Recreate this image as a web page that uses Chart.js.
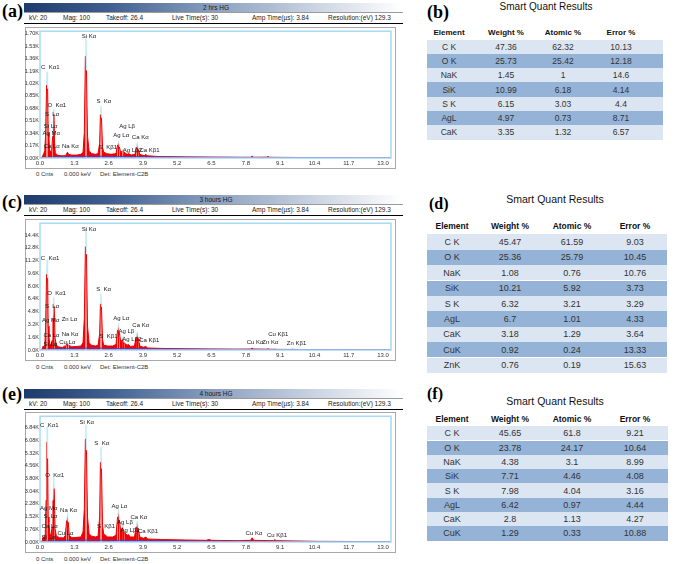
<!DOCTYPE html>
<html>
<head>
<meta charset="utf-8">
<script src="https://cdn.jsdelivr.net/npm/chart.js@4.4.1/dist/chart.umd.min.js"></script>
<style>
  body { margin: 0; background: #fff; }
  #page { position: relative; width: 685px; height: 564px; overflow: hidden;
          font-family: "Liberation Sans", Arial, sans-serif; color: #222; }
  .t { position: absolute; white-space: nowrap; line-height: 1; }
  .tag { font-family: "Liberation Serif", "Times New Roman", serif; font-weight: bold; font-size: 18px; color: #000; }
  .tag2 { font-family: "Liberation Serif", "Times New Roman", serif; font-weight: bold; font-size: 16px; color: #000; }
  .bar { position: absolute; height: 9px;
         background: linear-gradient(to right, #1d3b6c 0%, #3f5f8f 22%, #8a9fbf 50%, #cdd6e4 78%, #ffffff 100%); }
  .info { position: absolute; height: 10px; border-top: 1px solid #9a9a9a; border-bottom: 1.5px solid #000; }
  .small { font-size: 6.5px; color: #1a1a1a; }
  .foot { font-size: 6px; color: #333; }
  .row { position: absolute; }
  canvas { position: absolute; }
</style>
</head>
<body>
<div id="page"></div>
<script>
(function () {
  "use strict";

  // ── Axis ticks ──
  const xTicks  = [0.0, 1.3, 2.6, 3.9, 5.2, 6.5, 7.8, 9.1, 10.4, 11.7, 13.0];
  const yTicksA = [0, 0.17, 0.34, 0.51, 0.68, 0.85, 1.02, 1.19, 1.36, 1.53, 1.70];
  const yTicksC = [0, 1.6, 3.2, 4.8, 6.4, 8.0, 9.6, 11.2, 12.8, 14.4];
  const yTicksE = [0, 0.76, 1.52, 2.28, 3.04, 3.80, 4.56, 5.32, 6.08, 6.84];

  // ── Spectra: [keV, counts (K)] ──
  const specA = [
    [0.00,0.00],[0.08,0.01],[0.14,0.06],[0.18,0.10],[0.21,0.30],[0.25,1.00],[0.27,1.18],[0.29,0.95],
    [0.31,0.35],[0.34,0.28],[0.36,0.12],[0.40,0.08],[0.44,0.10],[0.48,0.30],[0.51,0.67],[0.53,0.60],
    [0.55,0.22],[0.58,0.07],[0.65,0.04],[0.80,0.03],[0.95,0.03],[1.00,0.05],[1.04,0.08],[1.08,0.05],
    [1.20,0.04],[1.40,0.04],[1.55,0.05],[1.63,0.08],[1.68,0.35],[1.72,1.40],[1.74,1.64],[1.76,1.20],
    [1.80,0.30],[1.86,0.10],[1.95,0.06],[2.10,0.05],[2.20,0.06],[2.26,0.20],[2.29,0.60],[2.31,0.71],
    [2.33,0.55],[2.37,0.15],[2.42,0.07],[2.46,0.08],[2.50,0.06],[2.70,0.05],[2.88,0.06],[2.94,0.18],
    [2.98,0.23],[3.01,0.15],[3.06,0.07],[3.12,0.10],[3.15,0.12],[3.18,0.08],[3.30,0.05],[3.36,0.06],
    [3.45,0.04],[3.60,0.05],[3.65,0.15],[3.69,0.21],[3.72,0.12],[3.78,0.05],[3.95,0.03],[4.01,0.05],
    [4.06,0.03],[4.50,0.02],[5.50,0.015],[6.50,0.012],[7.50,0.01],[7.98,0.01],[8.04,0.025],[8.10,0.01],
    [8.60,0.012],[8.64,0.02],[8.70,0.01],[10.0,0.006],[11.0,0.004],[13.3,0.002]
  ];
  const bgA = [[0,0],[0.3,0.01],[1.0,0.02],[2.0,0.025],[3.0,0.02],[4.0,0.015],[6.0,0.01],[9.0,0.006],[13.3,0.002]];

  const specC = [
    [0.00,0.0],[0.08,0.1],[0.12,0.5],[0.15,0.3],[0.18,0.6],[0.21,2.5],[0.25,9.5],[0.27,11.3],
    [0.29,9.0],[0.31,3.0],[0.34,1.6],[0.37,0.8],[0.41,0.6],[0.46,1.2],[0.49,4.0],[0.52,6.6],
    [0.54,5.5],[0.57,1.5],[0.62,0.6],[0.70,0.4],[0.85,0.3],[0.93,0.5],[0.97,0.4],[1.01,0.8],
    [1.04,1.1],[1.08,0.6],[1.20,0.4],[1.40,0.45],[1.55,0.5],[1.63,0.9],[1.68,4.0],[1.72,13.0],
    [1.74,15.3],[1.76,12.0],[1.80,3.0],[1.86,0.9],[1.95,0.6],[2.10,0.5],[2.20,0.6],[2.26,2.0],
    [2.29,5.8],[2.31,7.0],[2.33,5.4],[2.37,1.3],[2.42,0.5],[2.46,0.6],[2.55,0.5],[2.75,0.5],
    [2.88,0.7],[2.94,2.5],[2.98,3.3],[3.01,2.2],[3.06,0.9],[3.11,1.3],[3.15,1.7],[3.19,0.9],
    [3.30,0.6],[3.35,0.7],[3.42,0.45],[3.58,0.5],[3.64,1.6],[3.69,2.3],[3.72,1.5],[3.78,0.5],
    [3.92,0.35],[4.01,0.45],[4.08,0.25],[4.60,0.2],[5.50,0.15],[6.50,0.12],[7.50,0.1],[7.98,0.12],
    [8.04,0.22],[8.10,0.12],[8.58,0.1],[8.63,0.16],[8.68,0.1],[8.85,0.09],[8.90,0.12],[8.95,0.08],
    [9.52,0.07],[9.57,0.1],[9.62,0.07],[10.5,0.05],[13.3,0.02]
  ];
  const bgC = [[0,0],[0.3,0.1],[1.0,0.2],[2.0,0.25],[3.0,0.2],[4.0,0.15],[6.0,0.1],[9.0,0.06],[13.3,0.02]];

  const specE = [
    [0.00,0.0],[0.08,0.05],[0.12,0.3],[0.16,0.2],[0.20,0.5],[0.23,2.5],[0.26,6.0],[0.27,6.94],
    [0.29,5.0],[0.31,1.5],[0.34,1.2],[0.37,0.5],[0.41,0.4],[0.46,0.9],[0.49,2.5],[0.52,3.91],
    [0.54,3.2],[0.57,0.8],[0.62,0.35],[0.75,0.25],[0.90,0.25],[0.96,0.4],[1.01,1.3],[1.04,1.76],
    [1.07,1.2],[1.11,0.4],[1.20,0.25],[1.40,0.28],[1.55,0.3],[1.63,0.6],[1.68,2.0],[1.72,6.2],
    [1.74,7.03],[1.76,5.5],[1.80,1.5],[1.86,0.5],[1.95,0.35],[2.10,0.3],[2.20,0.35],[2.26,1.5],
    [2.29,4.8],[2.31,5.67],[2.33,4.4],[2.37,1.0],[2.42,0.4],[2.46,0.45],[2.55,0.3],[2.75,0.3],
    [2.88,0.4],[2.94,1.5],[2.98,1.96],[3.01,1.3],[3.06,0.6],[3.11,0.85],[3.15,1.08],[3.19,0.6],
    [3.30,0.4],[3.35,0.45],[3.42,0.3],[3.58,0.3],[3.64,0.9],[3.69,1.27],[3.72,0.8],[3.78,0.3],
    [3.92,0.22],[4.01,0.3],[4.08,0.18],[4.60,0.15],[5.50,0.12],[6.30,0.1],[6.40,0.15],[6.50,0.1],
    [7.50,0.08],[7.98,0.1],[8.04,0.25],[8.10,0.1],[8.85,0.08],[8.90,0.14],[8.95,0.08],[10.5,0.04],
    [13.3,0.02]
  ];
  const bgE = [[0,0],[0.3,0.05],[1.0,0.1],[2.0,0.12],[3.0,0.1],[4.0,0.08],[6.0,0.05],[9.0,0.03],[13.3,0.01]];

  // ── Peak labels: [keV, counts (K), text] ──
  const peaksA = [
    [0.04,1.24,"C  K\u03b11"],[1.58,1.67,"Si K\u03b1"],[0.28,0.72,"O  K\u03b11"],[0.19,0.60,"S  L\u03b1"],
    [2.14,0.78,"S  K\u03b1"],[0.14,0.43,"Si L\u03b1"],[0.09,0.34,"Ag M\u03b1"],[3.00,0.43,"Ag L\u03b2"],
    [2.78,0.31,"Ag L\u03b1"],[3.48,0.28,"Ca K\u03b1"],[0.14,0.16,"Ca L\u03b1"],[0.83,0.16,"Na K\u03b1"],
    [2.23,0.14,"S  K\u03b21"],[3.14,0.11,"Ag L\u03b22"],[3.77,0.11,"Ca K\u03b21"]
  ];
  const peaksC = [
    [0.03,11.5,"C  K\u03b11"],[1.58,15.1,"Si K\u03b1"],[0.27,7.1,"O  K\u03b11"],[2.13,7.6,"S  K\u03b1"],
    [0.19,5.45,"S  L\u03b1"],[0.08,3.7,"Ag M\u03b1"],[0.82,3.9,"Zn L\u03b1"],[2.78,4.0,"Ag L\u03b1"],
    [3.50,3.1,"Ca K\u03b1"],[0.82,1.9,"Na K\u03b1"],[0.13,1.8,"Ca L\u03b1"],[2.97,2.3,"Ag L\u03b2"],
    [2.25,1.7,"S  K\u03b21"],[3.12,1.3,"Ag L\u03b22"],[3.76,1.2,"Ca K\u03b21"],[0.73,1.0,"Cu L\u03b1"],
    [0.13,0.7,"Si L\u03b1"],[7.83,1.0,"Cu K\u03b1"],[8.42,1.0,"Zn K\u03b1"],[8.65,1.9,"Cu K\u03b21"],
    [9.35,0.8,"Zn K\u03b21"]
  ];
  const peaksE = [
    [0.00,6.98,"C  K\u03b11"],[1.50,7.19,"Si K\u03b1"],[2.06,5.9,"S  K\u03b1"],[0.20,4.0,"O  K\u03b11"],
    [0.00,2.0,"Ag M\u03b1"],[0.76,1.92,"Na K\u03b1"],[0.13,1.55,"S  L\u03b1"],[2.71,2.15,"Ag L\u03b1"],
    [3.43,1.5,"Ca K\u03b1"],[2.92,1.2,"Ag L\u03b2"],[0.06,0.92,"Ca L\u03b1"],[2.16,0.94,"S  K\u03b21"],
    [3.05,0.67,"Ag L\u03b22"],[3.71,0.63,"Ca K\u03b21"],[0.66,0.49,"Cu L\u03b1"],[0.06,0.30,"Si L\u03b1"],
    [7.79,0.53,"Cu K\u03b1"],[8.60,0.38,"Cu K\u03b21"]
  ];

  // ── Header texts ──
  const infoTexts = ["kV: 20", "Mag: 100", "Takeoff: 26.4", "Live Time(s): 30", "Amp Time(\u00b5s): 3.84", "Resolution:(eV) 129.3"];
  const footTexts = ["0 Cnts", "0.000 keV", "Det: Element-C2B"];

  // ── Smart Quant tables ──
  const tableCols = ["Element", "Weight %", "Atomic %", "Error %"];
  const elemB   = ["C K", "O K", "NaK", "SiK", "S K", "AgL", "CaK"];
  const weightB = ["47.36", "25.73", "1.45", "10.99", "6.15", "4.97", "3.35"];
  const atomicB = ["62.32", "25.42", "1", "6.18", "3.03", "0.73", "1.32"];
  const errorB  = ["10.13", "12.18", "14.6", "4.14", "4.4", "8.71", "6.57"];

  const elemD   = ["C K", "O K", "NaK", "SiK", "S K", "AgL", "CaK", "CuK", "ZnK"];
  const weightD = ["45.47", "25.36", "1.08", "10.21", "6.32", "6.7", "3.18", "0.92", "0.76"];
  const atomicD = ["61.59", "25.79", "0.76", "5.92", "3.21", "1.01", "1.29", "0.24", "0.19"];
  const errorD  = ["9.03", "10.45", "10.76", "3.73", "3.29", "4.33", "3.64", "13.33", "15.63"];

  const elemF   = ["C K", "O K", "NaK", "SiK", "S K", "AgL", "CaK", "CuK"];
  const weightF = ["45.65", "23.78", "4.38", "7.71", "7.98", "6.42", "2.8", "1.29"];
  const atomicF = ["61.8", "24.17", "3.1", "4.46", "4.04", "0.97", "1.13", "0.33"];
  const errorF  = ["9.21", "10.64", "8.99", "4.08", "3.16", "4.44", "4.27", "10.88"];

  const page = document.getElementById("page");
  Chart.defaults.font.family = '"Liberation Sans", Arial, sans-serif';

  // place a text, y is its vertical centre
  function put(text, x, y, cls, align, style) {
    var d = document.createElement("div");
    d.className = "t " + (cls || "");
    d.textContent = text;
    d.style.left = x + "px";
    d.style.top = y + "px";
    var tx = align === "c" ? "-50%" : (align === "r" ? "-100%" : "0");
    d.style.transform = "translate(" + tx + ",-50%)";
    if (style) Object.assign(d.style, style);
    page.appendChild(d);
    return d;
  }

  function box(cls, x, y, w, h, bg) {
    var d = document.createElement("div");
    d.className = cls;
    d.style.left = x + "px"; d.style.top = y + "px";
    d.style.width = w + "px";
    if (h != null) d.style.height = h + "px";
    if (bg) d.style.background = bg;
    page.appendChild(d);
    return d;
  }

  // frame + peak labels plugin
  const framePlugin = {
    id: "frame",
    beforeDraw: function (chart) {
      var c = chart.ctx;
      c.save();
      c.strokeStyle = "#a8a8a8";
      c.lineWidth = 1;
      c.strokeRect(5.5, 0.5, chart.width - 6, chart.height - 1);
      c.restore();
    },
    afterDatasetsDraw: function (chart, args, opts) {
      var a = chart.chartArea, c = chart.ctx;
      var xs = chart.scales.x, ys = chart.scales.y;
      c.save();
      c.strokeStyle = "#a6d9f4";
      c.lineWidth = 1.5;
      c.strokeRect(a.left, a.top, a.right - a.left, a.bottom - a.top);
      c.font = '6px "Liberation Sans", Arial, sans-serif';
      c.fillStyle = "#1a1a1a";
      c.textBaseline = "middle";
      (opts.labels || []).forEach(function (l) {
        c.fillText(l[2], xs.getPixelForValue(l[0]), ys.getPixelForValue(l[1]));
      });
      c.restore();
    }
  };

  function isTip(data, i, floor) {
    if (i <= 0 || i >= data.length - 1) return false;
    var y = data[i][1];
    return y > floor && y > data[i - 1][1] && y > data[i + 1][1];
  }

  function drawSpectrum(r) {
    var cv = document.createElement("canvas");
    cv.width = 376; cv.height = r.canvasH;
    cv.style.left = "20px"; cv.style.top = r.canvasTop + "px";
    page.appendChild(cv);
    var floor = r.yMax * 0.06;

    new Chart(cv, {
      type: "line",
      data: {
        datasets: [{
          data: r.bg,
          borderColor: "#4a3fd8",
          borderWidth: 1,
          pointRadius: 0,
          fill: false,
        }, {
          data: r.spec,
          backgroundColor: "#f00000",
          borderWidth: 1,
          pointRadius: 0,
          tension: 0,
          fill: "origin",
          segment: {
            borderColor: function (ctx) {
              return (isTip(r.spec, ctx.p0DataIndex, floor) || isTip(r.spec, ctx.p1DataIndex, floor)) ? "#bdeefa" : "#f00000";
            }
          }
        }]
      },
      options: {
        responsive: false,
        animation: false,
        devicePixelRatio: 1,
        layout: { padding: { top: r.padTop, right: 5, left: 0, bottom: 0 } },
        plugins: {
          legend: { display: false },
          tooltip: { enabled: false },
          frame: { labels: r.peaks },
        },
        scales: {
          x: {
            type: "linear", min: 0, max: 13.3,
            grid: { display: false, drawTicks: false },
            border: { display: false },
            afterBuildTicks: function (s) { s.ticks = xTicks.map(function (v) { return { value: v }; }); },
            afterFit: function (s) { s.height = 11; },
            ticks: {
              autoSkip: false, maxRotation: 0, padding: 2, color: "#333",
              font: { size: 6 },
              callback: function (v) { return v.toFixed(1); }
            }
          },
          y: {
            min: 0, max: r.yMax,
            grid: { display: false, drawTicks: false },
            border: { display: false },
            afterBuildTicks: function (s) { s.ticks = r.yTicks.map(function (v) { return { value: v }; }); },
            afterFit: function (s) { s.width = 20; },
            ticks: {
              autoSkip: false, padding: 1, color: "#333",
              font: { size: 5.5 },
              callback: function (v) { return v.toFixed(r.digits) + "K"; }
            }
          }
        }
      },
      plugins: [framePlugin]
    });
  }

  function drawRow(r) {
    put(r.tag, 2, r.tagY, "tag", "l");
    box("bar", 24, r.barTop, 379, 9);
    put(r.title, 216, r.barTop + 4.5, "small", "c");
    box("info", 24, r.barTop + 9, 379, 10);
    var infoX = [29, 63, 106, 172, 252, 328];
    infoTexts.forEach(function (s, i) { put(s, infoX[i], r.barTop + 15, "small", "l"); });
    drawSpectrum(r);
    var footX = [36, 64, 100];
    footTexts.forEach(function (s, i) { put(s, footX[i], r.footY, "foot", "l"); });
  }

  function drawTable(t) {
    put(t.tag, t.tagX, t.tagY, t.tagCls, "l");
    put("Smart Quant Results", t.titleX, t.titleY, "", "c", { fontSize: t.titleSize + "px", color: "#111" });
    tableCols.forEach(function (h, i) {
      put(h, t.cols[i], t.headY, "", "c", { fontSize: t.headSize + "px", fontWeight: "bold", color: "#111" });
    });
    var cols = [t.elem, t.weight, t.atomic, t.error];
    t.elem.forEach(function (e, r) {
      var top = t.rowTop + r * t.rowH;
      box("row", t.left, top, t.right - t.left, t.rowH, r % 2 ? "#95b3d7" : "#dce6f2");
      cols.forEach(function (col, c) {
        put(col[r], t.cols[c], top + t.rowH / 2, "", "c", { fontSize: t.size + "px", color: "#333" });
      });
    });
  }

  // ── Layout ──
  drawRow({ tag: "(a)", tagY: 11, title: "2 hrs HG", barTop: 3, canvasTop: 27, canvasH: 142, padTop: 2,
            footY: 174, spec: specA, bg: bgA, peaks: peaksA, yMax: 1.736, yTicks: yTicksA, digits: 2 });
  drawRow({ tag: "(c)", tagY: 202, title: "3 hours HG", barTop: 195, canvasTop: 219, canvasH: 142, padTop: 2,
            footY: 367, spec: specC, bg: bgC, peaks: peaksC, yMax: 15.87, yTicks: yTicksC, digits: 1 });
  drawRow({ tag: "(e)", tagY: 394, title: "4 hours HG", barTop: 389, canvasTop: 412, canvasH: 141, padTop: 1,
            footY: 559, spec: specE, bg: bgE, peaks: peaksE, yMax: 7.53, yTicks: yTicksE, digits: 2 });

  drawTable({ tag: "(b)", tagCls: "tag", tagX: 427, tagY: 12, titleX: 546, titleY: 7, titleSize: 10,
              headY: 33, rowTop: 39.5, rowH: 14.3, left: 427, right: 663, cols: [449, 506, 563, 621],
              size: 8.5, headSize: 8,
              elem: elemB, weight: weightB, atomic: atomicB, error: errorB });
  drawTable({ tag: "(d)", tagCls: "tag2", tagX: 429, tagY: 204, titleX: 555, titleY: 199, titleSize: 10.5,
              headY: 226, rowTop: 234.3, rowH: 15.4, left: 427, right: 667, cols: [452, 510, 572, 635],
              size: 9, headSize: 8.5,
              elem: elemD, weight: weightD, atomic: atomicD, error: errorD });
  drawTable({ tag: "(f)", tagCls: "tag2", tagX: 427, tagY: 394, titleX: 555, titleY: 401, titleSize: 10.5,
              headY: 419.3, rowTop: 426.2, rowH: 14.3, left: 427, right: 668, cols: [452, 510, 572, 635],
              size: 9, headSize: 8.5,
              elem: elemF, weight: weightF, atomic: atomicF, error: errorF });
})();
</script>
</body>
</html>
